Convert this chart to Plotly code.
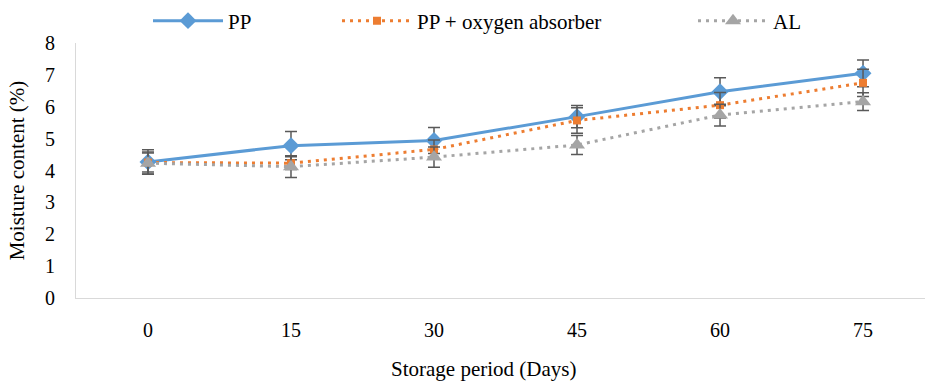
import plotly.graph_objects as go

days = [0, 15, 30, 45, 60, 75]
tick_labels = ["0", "15", "30", "45", "60", "75"]

pp = [4.27, 4.78, 4.94, 5.69, 6.47, 7.05]
pp_err = [0.38, 0.44, 0.41, 0.35, 0.44, 0.42]

pp_ox = [4.25, 4.23, 4.66, 5.57, 6.05, 6.75]
pp_ox_err = [0.30, 0.20, 0.30, 0.40, 0.40, 0.43]

al = [4.23, 4.12, 4.42, 4.80, 5.74, 6.16]
al_err = [0.35, 0.34, 0.32, 0.30, 0.34, 0.28]

FONT = "Liberation Serif, Times New Roman, serif"
ERR = "#595959"

fig = go.Figure()

fig.add_trace(go.Scatter(
    x=days, y=pp, name="PP", mode="lines+markers",
    line=dict(color="#5b9bd5", width=3),
    marker=dict(symbol="diamond", size=13, color="#5b9bd5"),
    error_y=dict(type="data", array=pp_err, visible=True, color=ERR, thickness=1.5, width=6),
    legend="legend",
))
fig.add_trace(go.Scatter(
    x=days, y=pp_ox, name="PP + oxygen absorber", mode="lines+markers",
    line=dict(color="#ed7d31", width=3, dash="3px,5px"),
    marker=dict(symbol="square", size=8, color="#ed7d31"),
    error_y=dict(type="data", array=pp_ox_err, visible=True, color=ERR, thickness=1.5, width=6),
    legend="legend2",
))
fig.add_trace(go.Scatter(
    x=days, y=al, name="AL", mode="lines+markers",
    line=dict(color="#a5a5a5", width=3, dash="3px,5px"),
    marker=dict(symbol="triangle-up", size=14, color="#a5a5a5"),
    error_y=dict(type="data", array=al_err, visible=True, color=ERR, thickness=1.5, width=6),
    legend="legend3",
))

leg_common = dict(orientation="h", xref="container", yref="container",
                  yanchor="middle", xanchor="left", y=1 - 21 / 381,
                  font=dict(family=FONT, size=21, color="#000"),
                  bgcolor="rgba(0,0,0,0)", itemwidth=70)

fig.update_layout(
    width=925, height=381,
    margin=dict(l=76, r=0, t=43, b=83, autoexpand=False),
    paper_bgcolor="white", plot_bgcolor="white",
    font=dict(family=FONT, size=20, color="#000"),
    showlegend=True,
    legend=dict(leg_common, x=148 / 925),
    legend2=dict(leg_common, x=337 / 925),
    legend3=dict(leg_common, x=693 / 925),
    xaxis=dict(
        range=[-7.55, 81.5], tickmode="array", tickvals=days, ticktext=tick_labels,
        showline=True, linecolor="#d9d9d9", linewidth=1, showgrid=False, zeroline=False,
        ticks="", ticklabelstandoff=14,
        tickfont=dict(family=FONT, size=20, color="#000"),
    ),
    yaxis=dict(
        range=[0, 8], dtick=1, tick0=0,
        showline=True, linecolor="#d9d9d9", linewidth=1, showgrid=False, zeroline=False,
        ticks="", ticklabelstandoff=16,
        tickfont=dict(family=FONT, size=20, color="#000"),
        title=dict(text="Moisture content (%)", font=dict(family=FONT, size=21, color="#000"), standoff=14),
    ),
    annotations=[dict(
        text="Storage period (Days)", xref="paper", yref="paper",
        x=(483 - 76) / 849, y=(298 - 369) / 255, xanchor="center", yanchor="middle",
        showarrow=False, font=dict(family=FONT, size=21, color="#000"),
    )],
)

fig.write_html("out.html")
